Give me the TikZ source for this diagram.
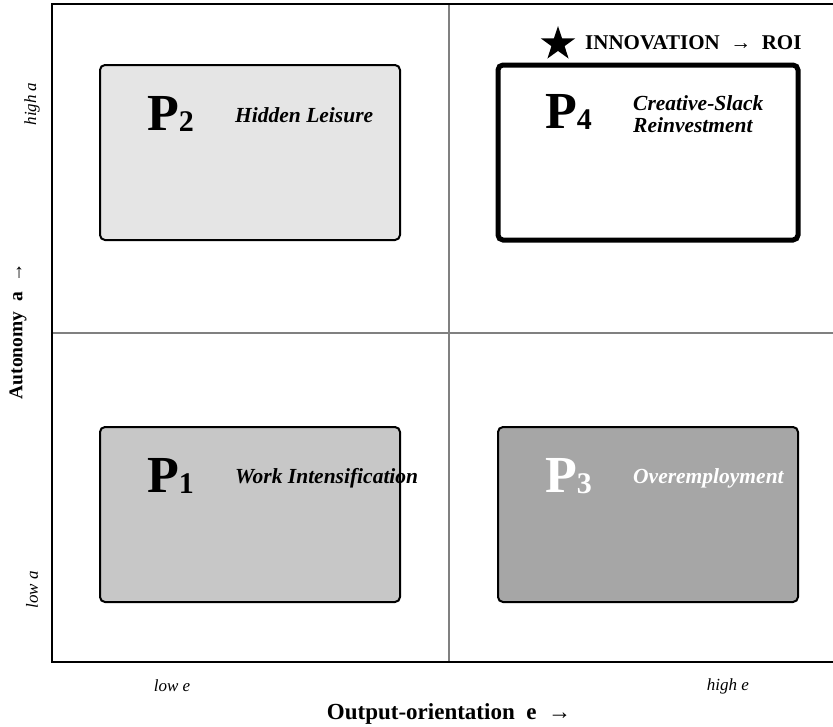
\documentclass[tikz,border=0pt]{standalone}
\usepackage{fontspec}
\setmainfont{Liberation Serif}
\usetikzlibrary{shapes.geometric}
\begin{document}
\begin{tikzpicture}[x=1pt,y=-1pt,
  quad/.style={draw=black,line width=2pt,rounded corners=5pt,minimum width=300pt,minimum height=175pt,inner sep=0pt},
  bigp/.style={anchor=base west,inner sep=0pt,font=\fontsize{52}{52}\selectfont\bfseries},
  tag/.style={anchor=base west,inner sep=0pt,font=\fontsize{21.5}{22}\selectfont\bfseries\itshape,align=left},
  axlab/.style={inner sep=0pt,font=\fontsize{17}{17}\selectfont\itshape},
  axtitle/.style={inner sep=0pt,font=\fontsize{19.5}{19.5}\selectfont\bfseries},
  midline/.style={draw=black!50,line width=1.8pt}]
\useasboundingbox (0,0) rectangle (833,726);
% mid lines
\draw[midline] (449,4) -- (449,662);
\draw[midline] (52,333) -- (833,333);
% frame
\draw[line width=2.5pt] (833,4) -- (52,4) -- (52,662) -- (833,662);
% boxes
\node[quad,fill=black!10] (p2) at (250,152.5) {};
\node[quad,fill=white,line width=5pt] (p4) at (648,152.5) {};
\node[quad,fill=black!22] (p1) at (250,514.5) {};
\node[quad,fill=black!35] (p3) at (648,514.5) {};
% labels
\node[bigp] (l2) at (147,130) {P\raisebox{-1pt}{\fontsize{30}{30}\selectfont 2}};
\node[tag] (t2) at (235,122) {Hidden Leisure};
\node[bigp] (l4) at (545,128) {P\raisebox{-1pt}{\fontsize{30}{30}\selectfont 4}};
\node[tag] (t4) at (633,132) {Creative-Slack\\Reinvestment};
\node[bigp] (l1) at (147,492) {P\raisebox{-1pt}{\fontsize{30}{30}\selectfont 1}};
\node[tag] (t1) at (235,483) {Work Intensification};
\node[bigp,text=white] (l3) at (545,492) {P\raisebox{-1pt}{\fontsize{30}{30}\selectfont 3}};
\node[tag,text=white] (t3) at (633,483) {Overemployment};
% innovation
\node[star,star points=5,star point ratio=2.6,fill=black,minimum size=36pt,inner sep=0pt] (star) at (558,44) {};
\node[anchor=base west,inner sep=0pt,font=\fontsize{21}{21}\selectfont\bfseries] (roi) at (585,49) {INNOVATION \ → \ ROI};
% axes labels
\node[axlab,rotate=90] (ha) at (32,104) {high a};
\node[axlab,rotate=90] (la) at (32,590) {low a};
\node[axtitle,rotate=90] (ya) at (18,331) {Autonomy \ a \ →};
\node[axlab] (le) at (172,686) {low e};
\node[axlab] (he) at (728,686) {high e};
\node[axtitle,font=\fontsize{23}{23}\selectfont\bfseries] (xa) at (449,714) {Output-orientation \ e \ →};
\end{tikzpicture}
\end{document}
